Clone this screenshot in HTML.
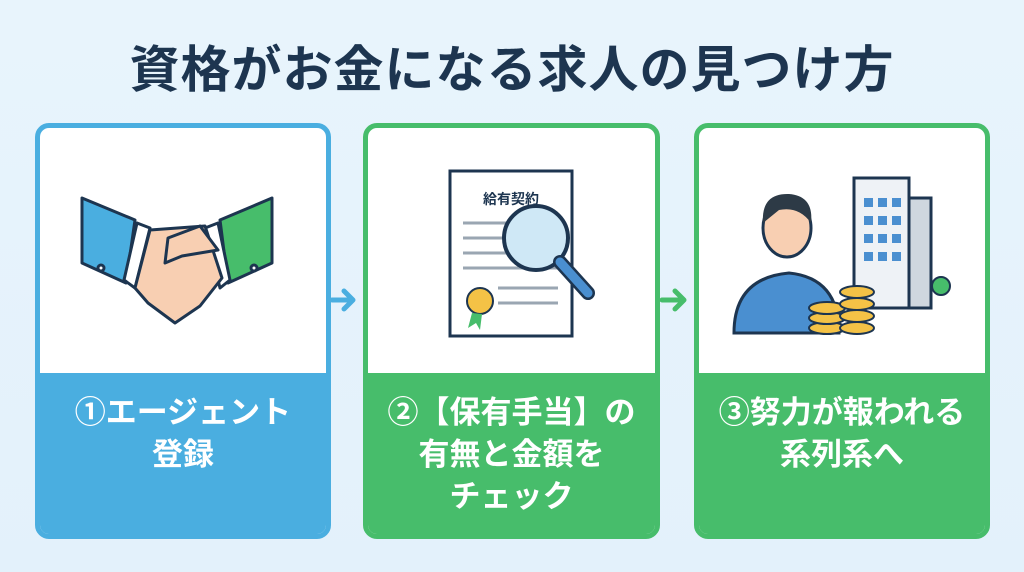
<!DOCTYPE html>
<html><head><meta charset="utf-8"><style>
*{margin:0;padding:0;box-sizing:border-box}
body{width:1024px;height:572px;overflow:hidden;background:linear-gradient(180deg,#e8f4fc,#e3f1fb);font-family:"Liberation Sans","Noto Sans CJK JP",sans-serif;position:relative}
.title{position:absolute;left:0;width:1024px;top:30px;text-align:center;font-size:50px;font-weight:bold;color:#1d3550;letter-spacing:1px}
.card{position:absolute;top:123px;height:416px;border:5px solid;border-radius:14px;background:#fff;overflow:hidden}
.card .bot{position:absolute;left:0;right:0;top:245px;bottom:0;color:#fff;font-weight:bold;font-size:31px;line-height:42px;text-align:center;padding-top:19px}
.c1{left:35px;width:296px;border-color:#4aaee0}.c1 .bot{background:#4aaee0}
.c2{left:363px;width:297px;border-color:#47bd6b}.c2 .bot{background:#47bd6b}
.c3{left:694px;width:296px;border-color:#47bd6b}.c3 .bot{background:#47bd6b}
svg{position:absolute}
</style></head><body>
<div class="title">資格がお金になる求人の見つけ方</div>
<div class="card c1"><svg width="286" height="245" viewBox="0 0 286 245">
<g stroke="#1d3550" stroke-width="3" stroke-linejoin="round">
<polygon points="42,70 95,92 86,155 42,135" fill="#4aaee0"/>
<polygon points="232,70 180,92 188,155 232,135" fill="#47bd6b"/>
<polygon points="97,95 110,100 95,160 84,152" fill="#fff"/>
<polygon points="178,95 165,100 180,160 190,152" fill="#fff"/>
<path d="M110,102 L165,98 L182,150 L160,178 L135,195 L108,175 L95,160 Z" fill="#f8cfb2"/>
<path d="M128,110 L160,98 L178,122 L142,128 L125,135 Z" fill="#f8cfb2"/>
<circle cx="61" cy="140" r="3" fill="#fff"/><circle cx="214" cy="140" r="3" fill="#fff"/>
</g></svg>
<div class="bot">①エージェント<br>登録</div></div>
<div class="card c2"><svg width="287" height="245" viewBox="0 0 287 245">
<rect x="82" y="43" width="122" height="165" fill="#fff" stroke="#1d3550" stroke-width="3"/>
<text x="143" y="76" font-size="14" font-weight="bold" text-anchor="middle" fill="#1d3550" font-family="Liberation Sans,Noto Sans CJK JP,sans-serif">給有契約</text>
<g stroke="#9aa6b2" stroke-width="3"><line x1="95" y1="95" x2="190" y2="95"/><line x1="95" y1="110" x2="190" y2="110"/><line x1="95" y1="125" x2="190" y2="125"/><line x1="95" y1="140" x2="190" y2="140"/><line x1="130" y1="160" x2="190" y2="160"/><line x1="130" y1="175" x2="190" y2="175"/></g>
<circle cx="112" cy="173" r="13" fill="#f4c246" stroke="#1d3550" stroke-width="2"/>
<polygon points="104,185 100,200 108,195 112,202 114,186" fill="#47bd6b"/>
<circle cx="168" cy="110" r="32" fill="#cfe8f6" stroke="#1d3550" stroke-width="4"/>
<line x1="192" y1="134" x2="220" y2="165" stroke="#1d3550" stroke-width="14" stroke-linecap="round"/>
<line x1="192" y1="134" x2="220" y2="165" stroke="#4a8fd0" stroke-width="9" stroke-linecap="round"/>
</svg>
<div class="bot">②【保有手当】の<br>有無と金額を<br>チェック</div></div>
<div class="card c3"><svg width="286" height="245" viewBox="0 0 286 245">
<rect x="155" y="50" width="55" height="130" fill="#eef2f6" stroke="#1d3550" stroke-width="3"/>
<rect x="210" y="70" width="22" height="110" fill="#cfd7df" stroke="#1d3550" stroke-width="3"/>
<g fill="#4a8fd0"><rect x="165" y="70" width="9" height="9"/><rect x="179" y="70" width="9" height="9"/><rect x="193" y="70" width="9" height="9"/><rect x="165" y="88" width="9" height="9"/><rect x="179" y="88" width="9" height="9"/><rect x="193" y="88" width="9" height="9"/><rect x="165" y="106" width="9" height="9"/><rect x="179" y="106" width="9" height="9"/><rect x="193" y="106" width="9" height="9"/><rect x="165" y="124" width="9" height="9"/><rect x="179" y="124" width="9" height="9"/><rect x="193" y="124" width="9" height="9"/></g>
<circle cx="242" cy="158" r="9" fill="#47bd6b" stroke="#1d3550" stroke-width="2"/>
<path d="M35,205 Q35,150 90,145 Q140,150 140,205 Z" fill="#4a8fd0" stroke="#1d3550" stroke-width="3"/>
<ellipse cx="88" cy="100" rx="24" ry="29" fill="#f8cfb2" stroke="#1d3550" stroke-width="3"/>
<path d="M64,95 Q62,65 90,66 Q115,68 112,95 Q100,78 80,82 Z" fill="#2d3a46"/>
<g fill="#f4c246" stroke="#1d3550" stroke-width="2"><ellipse cx="128" cy="200" rx="18" ry="6"/><ellipse cx="128" cy="190" rx="18" ry="6"/><ellipse cx="128" cy="180" rx="18" ry="6"/><ellipse cx="158" cy="200" rx="17" ry="6"/><ellipse cx="158" cy="188" rx="17" ry="6"/><ellipse cx="158" cy="176" rx="17" ry="6"/><ellipse cx="158" cy="164" rx="17" ry="6"/></g>
</svg>
<div class="bot">③努力が報われる<br>系列系へ</div></div>
<svg width="1024" height="572" style="left:0;top:0">
<g fill="none" stroke-width="5" stroke-linecap="round" stroke-linejoin="round">
<path d="M332,300 H352 M344,291 L353,300 L344,309" stroke="#4aaee0"/>
<path d="M662,300 H684 M675,291 L684,300 L675,309" stroke="#47bd6b"/>
</g></svg>
</body></html>
